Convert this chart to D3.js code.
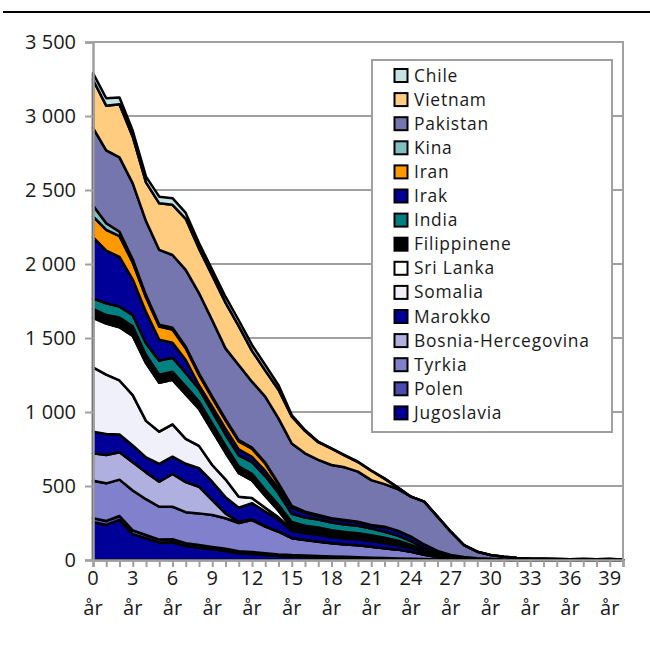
<!DOCTYPE html>
<html><head><meta charset="utf-8">
<script src="https://cdn.jsdelivr.net/npm/d3@7"></script>
<style>
body{margin:0;background:#fff}
svg text{font-family:"Open Sans","Noto Sans",sans-serif;fill:#1a1a1a}
</style>
</head><body>
<svg id="chart" width="650" height="651"></svg>
<script>
// ---- data ----
const years = d3.range(0, 41);
const seriesNames = ["Jugoslavia","Polen","Tyrkia","Bosnia-Hercegovina","Marokko","Somalia","Sri Lanka","Filippinene","India","Irak","Iran","Kina","Pakistan","Vietnam","Chile"];
const jugoslavia = [255,237,270,175,147,118,120,95,83,72, 61,45,41,34,27,23,20,18,16,14, 12,10,8,6,5,4,3,2,1,1, 0,0,0,0,0,0,0,0,0,0,0];
const polen = [28,27,27,25,22,20,20,18,18,16, 15,14,13,12,11,10,10,9,8,8, 7,6,5,4,3,2,1,1,0,0, 0,0,0,0,0,0,0,0,0,0,0];
const tyrkia = [252,254,246,270,242,222,220,210,214,216, 206,191,216,179,153,114,105,97,89,83, 81,74,67,60,47,29,16,7,4,2, 2,1,0,0,0,0,0,0,0,0,0];
const bosnia = [187,191,185,191,181,169,221,203,180,101, 33,8,4,3,2,2,1,1,1,1, 0,0,0,0,0,0,0,0,0,0, 0,0,0,0,0,0,0,0,0,0,0];
const marokko = [144,142,120,113,101,120,117,124,125,124, 110,95,110,100,80,48,45,45,42,40, 40,38,35,30,25,18,10,5,3,2, 1,0,0,0,0,0,0,0,0,0,0];
const somalia = [435,402,365,340,247,218,219,169,151,113, 120,74,35,25,15,8,5,4,3,3, 2,2,2,1,1,0,0,0,0,0, 0,0,0,0,0,0,0,0,0,0,0];
const sriLanka = [335,345,360,400,390,330,300,300,250,230, 180,160,118,80,45,12,6,5,4,3, 3,2,2,1,1,0,0,0,0,0, 0,0,0,0,0,0,0,0,0,0,0];
const filippinene = [60,57,65,65,55,55,55,55,50,50, 48,45,45,42,40,40,40,40,38,38, 36,35,32,28,20,12,6,3,2,1, 1,0,0,0,0,0,0,0,0,0,0];
const india = [70,80,75,75,80,95,95,90,85,80, 75,75,80,92,80,55,55,55,52,50, 50,45,40,35,25,15,8,4,2,1, 1,0,0,0,0,0,0,0,0,0,0];
const irak = [415,355,335,241,210,141,101,87,25,34, 40,40,35,35,30,40,32,23,24,25, 24,20,31,31,29,25,18,12,8,5, 3,2,1,1,0,0,0,0,0,0,0];
const iran = [140,140,140,115,100,90,90,80,70,60, 55,55,55,50,30,10,5,4,3,3, 2,2,2,1,1,0,0,0,0,0, 0,0,0,0,0,0,0,0,0,0,0];
const kina = [74,45,30,20,15,12,12,10,10,8, 8,8,8,6,5,4,3,3,2,2, 2,2,1,1,1,0,0,0,0,0, 0,0,0,0,0,0,0,0,0,0,0];
const pakistan = [525,493,502,515,500,505,491,519,543,516, 479,508,445,446,439,422,394,372,360,356, 338,304,288,282,270,289,231,157,81,44, 26,19,13,9,8,6,5,7,5,6,4];
const vietnam = [325,302,360,315,262,315,339,345,300,302, 309,262,208,176,193,182,152,120,110,80, 65,63,37,10,0,0,0,0,0,0, 0,0,0,0,0,0,0,0,0,0,0];
const chile = [45,50,45,40,38,45,45,40,38,38, 40,40,40,38,32,10,5,4,3,3, 2,2,2,1,0,0,0,0,0,0, 0,0,0,0,0,0,0,0,0,0,0];
const seriesValues = [jugoslavia,polen,tyrkia,bosnia,marokko,somalia,sriLanka,filippinene,india,irak,iran,kina,pakistan,vietnam,chile];
const colors = ["#000099","#4B4BB0","#8080CC","#B0B0E0","#000099","#F0F0FA","#FFFFFF","#000000","#008080","#000099","#FF9900","#80C0C0","#7676AE","#FFCC80","#C6E3E3"];
const yTicks = [0,500,1000,1500,2000,2500,3000,3500];
const xLabelYears = [0,3,6,9,12,15,18,21,24,27,30,33,36,39];

// ---- build ----
const table = years.map((yr, i) => {
  const row = {year: yr};
  seriesNames.forEach((n, k) => row[n] = seriesValues[k][i]);
  return row;
});
const svg = d3.select("#chart");
const pLeft = 93, pRight = 623, pTop = 42, pBottom = 560;
const x = d3.scaleLinear().domain([0, 40]).range([pLeft, pRight]);
const y = d3.scaleLinear().domain([0, 3500]).range([pBottom, pTop]);
const loc = d3.formatLocale({decimal: ",", thousands: " ", grouping: [3], currency: ["", ""]});
const fmt = loc.format(",d");

// title rule
svg.append("line").attr("x1", 3).attr("x2", 650).attr("y1", 12).attr("y2", 12)
  .attr("stroke", "#000").attr("stroke-width", 2);

// gridlines
svg.append("g").selectAll("line").data(yTicks.filter(d => d > 0)).join("line")
  .attr("x1", pLeft).attr("x2", pRight).attr("y1", d => y(d)).attr("y2", d => y(d))
  .attr("stroke", "#a0a0a0").attr("stroke-width", 2);

// stacked areas
const stack = d3.stack().keys(seriesNames);
const layers = stack(table);
const area = d3.area().x(d => x(d.data.year)).y0(d => y(d[0])).y1(d => y(d[1]));
svg.append("g").selectAll("path").data(layers).join("path")
  .attr("d", area)
  .attr("fill", (d, i) => colors[i])
  .attr("stroke", "#000").attr("stroke-width", 2.5).attr("stroke-linejoin", "round");

// plot frame (top, right)
svg.append("path").attr("d", `M${pLeft},${pTop}H${pRight}V${pBottom}`)
  .attr("fill", "none").attr("stroke", "#a0a0a0").attr("stroke-width", 2);

// y axis
const yAxis = svg.append("g").attr("transform", `translate(${pLeft},0)`)
  .call(d3.axisLeft(y).tickValues(yTicks).tickSize(8).tickPadding(9).tickFormat(fmt));
yAxis.select(".domain").attr("stroke", "#a0a0a0").attr("stroke-width", 2.5);
yAxis.selectAll(".tick line").attr("stroke", "#a0a0a0").attr("stroke-width", 2);
yAxis.selectAll(".tick text").attr("font-size", 20).attr("font-family", "Open Sans").attr("fill", "#1a1a1a");

// x axis
const xAxis = svg.append("g").attr("transform", `translate(0,${pBottom})`)
  .call(d3.axisBottom(x).tickValues(years).tickSize(7).tickFormat(""));
xAxis.select(".domain").attr("stroke", "#a0a0a0").attr("stroke-width", 2.5);
xAxis.selectAll(".tick line").attr("stroke", "#a0a0a0").attr("stroke-width", 2);
const xl = svg.append("g").selectAll("text").data(xLabelYears).join("text")
  .attr("x", d => x(d)).attr("text-anchor", "middle").attr("font-size", 20);
xl.append("tspan").attr("x", d => x(d)).attr("y", 585).text(d => String(d));
xl.append("tspan").attr("x", d => x(d)).attr("y", 615).text("år");

// legend
const lg = svg.append("g");
lg.append("rect").attr("x", 372).attr("y", 60).attr("width", 240).attr("height", 372)
  .attr("fill", "#fff").attr("stroke", "#a0a0a0").attr("stroke-width", 2);
const legendOrder = seriesNames.map((n, i) => ({name: n, color: colors[i]})).reverse();
const rows = lg.selectAll("g.row").data(legendOrder).join("g").attr("class", "row")
  .attr("transform", (d, i) => `translate(0,${75.5 + i * 24.1})`);
rows.append("rect").attr("x", 394.5).attr("y", -6.5).attr("width", 13).attr("height", 13)
  .attr("fill", d => d.color).attr("stroke", "#000").attr("stroke-width", 2);
rows.append("text").attr("x", 414).attr("y", 0).attr("dy", "0.35em").attr("font-size", 17.4)
  .attr("letter-spacing", 0.8).text(d => d.name);
</script>
</body></html>
